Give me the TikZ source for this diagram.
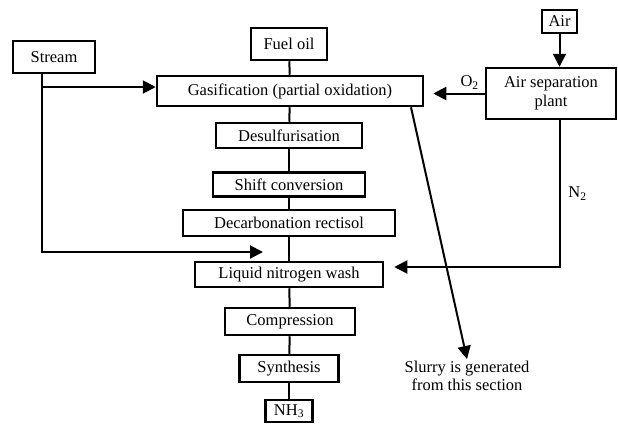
\documentclass[tikz,border=0pt]{standalone}
\usepackage{fontspec}
\setmainfont{Liberation Serif}
\usetikzlibrary{arrows.meta,positioning,calc}

\begin{document}
\begin{tikzpicture}[x=1pt, y=-1pt,
  every node/.style={font=\fontsize{16.5}{19}\selectfont},
  blk/.style={rectangle, draw, line width=2.5pt, minimum width=#1, minimum height=26pt, inner sep=0pt, align=center},
  arr/.style={-{Triangle[length=13pt, width=13pt]}, line width=2pt},
  lnk/.style={line width=2pt}
]
  \useasboundingbox (0,0) rectangle (618,424);

  \node[blk=82pt, minimum height=32pt] (stream) at (54,57) {Stream};
  \node[blk=76pt, minimum height=32pt] (fuel) at (289,44) {Fuel oil};
  \node[blk=266pt, minimum height=30pt] (gas) at (290,91) {Gasification (partial oxidation)};
  \node[blk=146pt, minimum height=25pt] (desulf) at (289,135.5) {Desulfurisation};
  \node[blk=152pt, minimum height=24pt] (shift) at (289,184.5) {Shift conversion};
  \node[blk=212pt] (decarb) at (289,223) {Decarbonation rectisol};
  \node[blk=188pt, minimum height=25pt] (lnw) at (289,274.5) {Liquid nitrogen wash};
  \node[blk=130pt, minimum height=27pt] (comp) at (290,321.5) {Compression};
  \node[blk=99pt, minimum height=27pt] (synth) at (289,368.5) {Synthesis};
  \node[blk=47pt, minimum height=22pt] (nh3) at (289,411) {NH\textsubscript{3}};
  \node[blk=35pt, minimum height=23pt] (air) at (559.5,21.5) {Air};
  \node[blk=130pt, minimum height=51pt] (asp) at (551,93.5) {Air separation\\plant};
  \node[align=center, inner sep=2pt, font=\fontsize{16.5}{18}\selectfont] (slurry) at (467,376) {Slurry is generated\\from this section};

  \coordinate (mix) at (263,252);

  % main line
  \draw[lnk] (fuel) -- (gas);
  \draw[lnk] (gas) -- (desulf);
  \draw[lnk] (desulf) -- (shift);
  \draw[lnk] (shift) -- (decarb);
  \draw[lnk] (decarb) -- (lnw);
  \draw[lnk] (lnw) -- (comp);
  \draw[lnk] (comp) -- (synth);
  \draw[lnk] (synth) -- (nh3);

  % stream feed
  \draw[arr] ([xshift=-12pt]stream.south) |- ([yshift=4pt]gas.west);
  \draw[arr] ([xshift=-12pt]stream.south) |- (mix);

  % air separation
  \draw[arr] (air) -- (air |- asp.north);
  \draw[arr, shorten >=9pt] (asp.west) -- (asp.west -| gas.east)
    node[pos=0.25, above=0pt] {O\textsubscript{2}};
  \draw[arr, shorten >=10pt] ([xshift=9pt]asp.south) |- ([yshift=7.5pt]lnw.east)
    node[pos=0.25, right=4pt] {N\textsubscript{2}};

  % slurry
  \draw[arr] ([xshift=121pt]gas.south) -- (slurry.north);
\end{tikzpicture}
\end{document}
